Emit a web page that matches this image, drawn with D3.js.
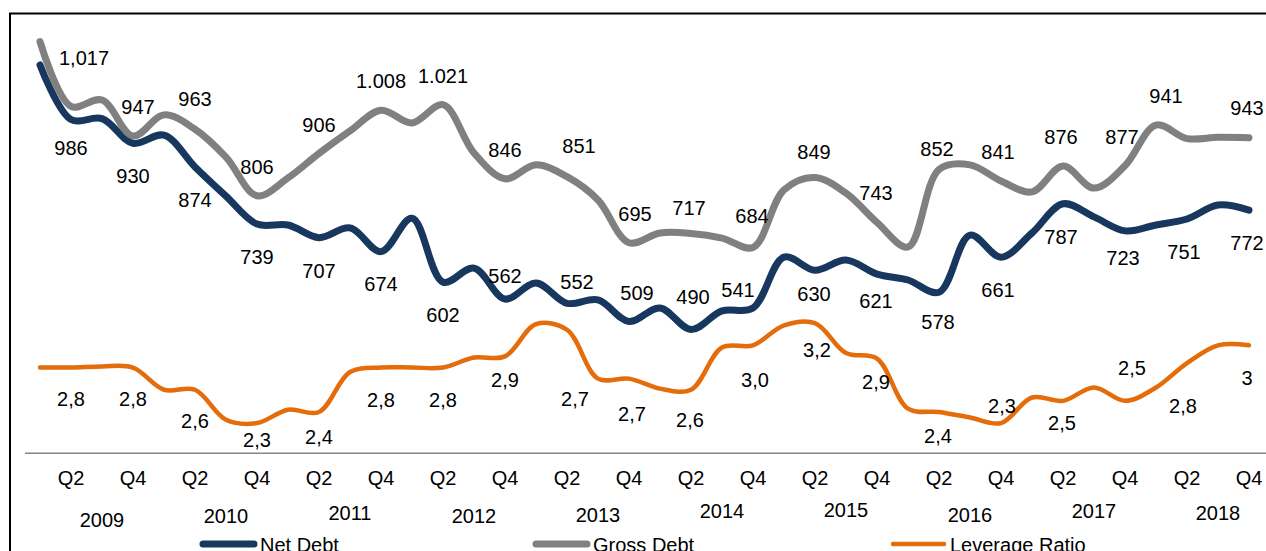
<!DOCTYPE html>
<html>
<head>
<meta charset="utf-8">
<script src="https://cdn.jsdelivr.net/npm/d3@7"></script>
<style>
  html, body { margin: 0; padding: 0; background: #fff; }
  svg text { font-family: "Liberation Sans", Arial, sans-serif; fill: #000; }
</style>
</head>
<body>
<svg id="chart" width="1266" height="551"></svg>
<script>
// ─── data ──────────────────────────────────────────────────────────────
const years    = ['2009','2010','2011','2012','2013','2014','2015','2016','2017','2018'];
const quarters = years.flatMap(y => ['Q1','Q2','Q3','Q4'].map(q => q + ' ' + y));

const netDebt = [1115, 986, 988, 930, 949, 874, 805, 739, 737, 707,
                 730, 674, 753, 602, 635, 562, 600, 552, 560, 509,
                 541, 490, 534, 541, 661, 630, 654, 621, 607, 578,
                 713, 661, 718, 787, 756, 723, 737, 751, 784, 772];
const grossDebt = [1170, 1017, 1032, 947, 997, 963, 897, 806, 848, 906,
                   959, 1008, 978, 1021, 907, 846, 879, 851, 796, 695,
                   718, 717, 706, 684, 820, 849, 812, 743, 685, 868,
                   879, 841, 815, 876, 824, 877, 973, 941, 944, 943];
const leverage = [2.8, 2.8, 2.81, 2.8, 2.6, 2.6, 2.33, 2.3, 2.42, 2.4,
                  2.76, 2.8, 2.8, 2.8, 2.89, 2.9, 3.19, 3.14, 2.7, 2.7,
                  2.61, 2.6, 2.98, 3.0, 3.18, 3.2, 2.93, 2.88, 2.43, 2.4,
                  2.35, 2.3, 2.53, 2.5, 2.62, 2.5, 2.62, 2.84, 3.0, 3.0];

// value labels shown on Q2 / Q4 only, as printed in the source
const netLabels   = ['986','930','874','739','707','674','602','562','552','509',
                     '490','541','630','621','578','661','787','723','751','772'];
const grossLabels = ['1,017','947','963','806','906','1.008','1.021','846','851','695',
                     '717','684','849','743','852','841','876','877','941','943'];
const levLabels   = ['2,8','2,8','2,6','2,3','2,4','2,8','2,8','2,9','2,7','2,7',
                     '2,6','3,0','3,2','2,9','2,4','2,3','2,5','2,5','2,8','3'];

// hand placed label offsets (dx, dy) from the point, as in the source
const netOff   = [[0,28],[0,33],[0,33],[0,33],[0,33],[0,32],[0,33],[0,-23],[10,-21],[8,-29],
                  [2,-33],[-15,-18],[-1,24],[-1,27],[-1,30],[-3,33],[-2,33],[-2,27],[-3,33],[-2,33]];
const grossOff = [[13,-49],[5,-29],[0,-30],[0,-29],[0,-29],[0,-29],[0,-29],[0,-29],[12,-31],[6,-29],
                  [-2,-26],[-1,-32],[-1,-26],[-1,-30],[-2,-21],[-3,-29],[-2,-29],[-3,-29],[-21,-43],[-2,-30]];
const levOff   = [[0,31],[0,31],[0,31],[0,17],[0,25],[0,32],[0,32],[0,23],[8,69],[3,35],
                  [-1,30],[2,34],[2,27],[-1,23],[-1,24],[1,-17],[-1,22],[7,-33],[-4,43],[-2,32]];
const yearDy   = [7, 3, 0, 3, 2, -2, -3, 2, -2, 0];

// ─── layout ────────────────────────────────────────────────────────────
const W = 1266, H = 551;
const FS = 20;
const svg = d3.select('#chart');

const x = d3.scalePoint().domain(quarters).range([40, 1249]);
const yDebt = d3.scaleLinear().domain([0, 1200]).range([537, 537 - 0.4234 * 1200]);
const yLev  = d3.scaleLinear().domain([0, 4]).range([678.6, 678.6 - 111.1 * 4]);

const colNet = '#17375e', colGross = '#808080', colLev = '#e46c0a';

// frame (clipped by the picture on the right and bottom)
svg.append('rect')
  .attr('x', 10).attr('y', 13.5).attr('width', 1300).attr('height', 600)
  .attr('fill', 'none').attr('stroke', '#000').attr('stroke-width', 2);

// category axis line
svg.append('line')
  .attr('x1', 25).attr('x2', W).attr('y1', 453.3).attr('y2', 453.3)
  .attr('stroke', '#868686').attr('stroke-width', 1.5);

const series = [
  { vals: netDebt,   y: yDebt, col: colNet,   w: 7,   labels: netLabels,   off: netOff },
  { vals: grossDebt, y: yDebt, col: colGross, w: 7,   labels: grossLabels, off: grossOff },
  { vals: leverage,  y: yLev,  col: colLev,   w: 4.5, labels: levLabels,   off: levOff }
];

series.forEach(s => {
  const line = d3.line()
    .x((d, i) => x(quarters[i]))
    .y(d => s.y(d))
    .curve(d3.curveCatmullRom.alpha(0.5));
  svg.append('path')
    .datum(s.vals)
    .attr('d', line)
    .attr('fill', 'none')
    .attr('stroke', s.col)
    .attr('stroke-width', s.w)
    .attr('stroke-linecap', 'round')
    .attr('stroke-linejoin', 'round');
});

series.forEach(s => {
  svg.append('g').selectAll('text')
    .data(s.labels)
    .enter().append('text')
    .attr('x', (d, k) => x(quarters[2 * k + 1]) + s.off[k][0])
    .attr('y', (d, k) => s.y(s.vals[2 * k + 1]) + s.off[k][1] + FS * 0.36)
    .attr('text-anchor', 'middle')
    .attr('font-size', FS)
    .text(d => d);
});

// quarter ticks (only Q2 and Q4 are printed)
svg.append('g').selectAll('text')
  .data(quarters.filter((q, i) => i % 2 === 1))
  .enter().append('text')
  .attr('x', d => x(d))
  .attr('y', 478 + FS * 0.36)
  .attr('text-anchor', 'middle')
  .attr('font-size', FS)
  .text(d => d.split(' ')[0]);

// year labels, centred on Q3
svg.append('g').selectAll('text')
  .data(years)
  .enter().append('text')
  .attr('x', d => x('Q3 ' + d))
  .attr('y', (d, i) => 513 + yearDy[i] + FS * 0.36)
  .attr('text-anchor', 'middle')
  .attr('font-size', FS)
  .text(d => d);

// legend
const legend = [
  { name: 'Net Debt',       col: colNet,   w: 7,   x0: 203 },
  { name: 'Gross Debt',     col: colGross, w: 7,   x0: 536 },
  { name: 'Leverage Ratio', col: colLev,   w: 4.5, x0: 893 }
];
const lg = svg.append('g').selectAll('g').data(legend).enter().append('g');
lg.append('line')
  .attr('x1', d => d.x0).attr('x2', d => d.x0 + 51)
  .attr('y1', 544).attr('y2', 544)
  .attr('stroke', d => d.col).attr('stroke-width', d => d.w)
  .attr('stroke-linecap', 'round');
lg.append('text')
  .attr('x', d => d.x0 + 57)
  .attr('y', 552)
  .attr('font-size', FS)
  .text(d => d.name);
</script>
</body>
</html>
